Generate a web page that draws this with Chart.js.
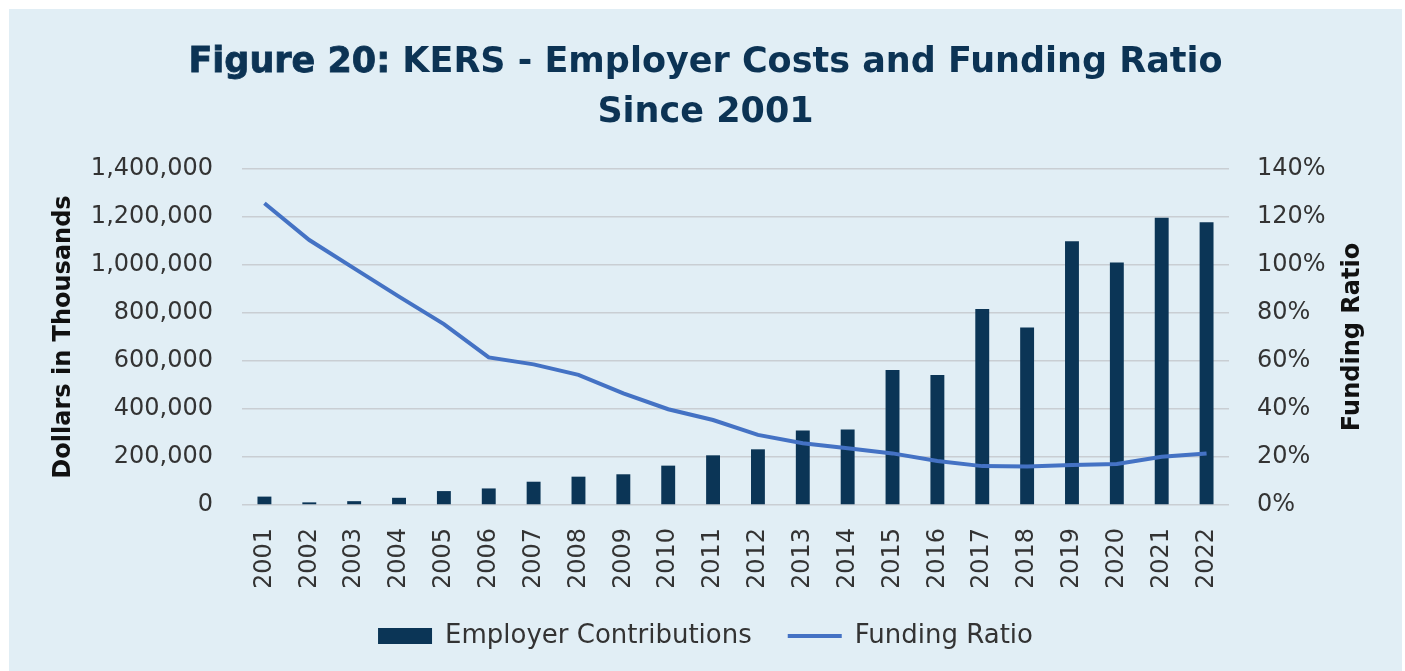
<!DOCTYPE html>
<html>
<head>
<meta charset="utf-8">
<script src="https://cdn.jsdelivr.net/npm/chart.js@4.4.0/dist/chart.umd.min.js"></script>
<style>
  html, body { margin: 0; padding: 0; background: #ffffff; }
  #panel {
    position: absolute; left: 9px; top: 9px; width: 1393px; height: 662px;
    background: #e1eef5;
  }
  #title {
    position: absolute; left: 0; top: 26px; width: 100%;
    text-align: center; color: #0c3354;
    font-family: "DejaVu Sans", sans-serif; font-weight: bold;
    font-size: 35px; line-height: 50px;
  }
  #title .fig { -webkit-text-stroke: 0.8px #0c3354; }
  #chartBox { position: absolute; left: 0; top: 0; width: 1393px; height: 662px; }
</style>
</head>
<body>
<div id="panel">
  <div id="chartBox"><canvas id="kersChart"></canvas></div>
  <div id="title"><span class="fig">Figure 20:</span> KERS - Employer Costs and Funding Ratio<br>Since 2001</div>
</div>
<script>
const years = ['2001', '2002', '2003', '2004', '2005', '2006', '2007', '2008', '2009', '2010', '2011',
               '2012', '2013', '2014', '2015', '2016', '2017', '2018', '2019', '2020', '2021', '2022'];
// employer contributions, dollars in thousands
const employerContributions = [35000, 11000, 16000, 30000, 58000, 69000, 97000, 118000, 128000, 164000, 207000,
                               232000, 310000, 315000, 562000, 542000, 817000, 740000, 1099000, 1010000, 1197000, 1178000];
// funding ratio, percent
const fundingRatio = [125.7, 110.4, 98.6, 86.8, 75.4, 61.5, 58.6, 54.2, 46.5, 39.9, 35.4,
                      29.2, 25.7, 23.6, 21.5, 18.3, 16.2, 16.0, 16.7, 17.1, 20.1, 21.5];
const dollarTicks = [0, 1400000, 200000];   // min, max, step
const ratioTicks = [0, 140, 20];

const navy = '#0b3556';
const blue = '#4472c4';
const tickFont = { family: 'DejaVu Sans', size: 24 };
const axisTitleFont = { family: 'DejaVu Sans', size: 24, weight: 'bold' };

const rightTitle = {
    id: 'rightTitle',
    afterDraw(chart) {
        const sc = chart.scales.y1;
        const ctx = chart.ctx;
        ctx.save();
        ctx.translate(1344, (sc.top + sc.bottom) / 2);
        ctx.rotate(-Math.PI / 2);
        ctx.font = 'bold 24px "DejaVu Sans"';
        ctx.fillStyle = '#111111';
        ctx.textAlign = 'center';
        ctx.textBaseline = 'middle';
        ctx.fillText('Funding Ratio', 0, 0);
        ctx.restore();
    }
};

new Chart(document.getElementById('kersChart'), {
    type: 'bar',
    data: {
        labels: years,
        datasets: [{
            type: 'line',
            label: 'Funding Ratio',
            data: fundingRatio,
            yAxisID: 'y1',
            borderColor: blue,
            borderWidth: 4,
            pointRadius: 0,
            tension: 0,
            order: 0
        }, {
            type: 'bar',
            label: 'Employer Contributions',
            data: employerContributions,
            yAxisID: 'y',
            backgroundColor: navy,
            categoryPercentage: 1,
            barPercentage: 0.31,
            order: 1
        }]
    },
    options: {
        responsive: true,
        maintainAspectRatio: false,
        animation: false,
        layout: { padding: { top: 160, left: 0, right: 0, bottom: 12 } },
        plugins: {
            tooltip: { enabled: false },
            legend: {
                position: 'bottom',
                labels: {
                    font: { family: 'DejaVu Sans', size: 26 },
                    color: '#333333',
                    usePointStyle: true,
                    pointStyleWidth: 54,
                    boxHeight: 16,
                    padding: 36,
                    generateLabels() {
                        return [
                            { text: 'Employer Contributions', fillStyle: navy, strokeStyle: navy, lineWidth: 0, pointStyle: 'rect', datasetIndex: 1, fontColor: '#333333' },
                            { text: 'Funding Ratio', fillStyle: blue, strokeStyle: blue, lineWidth: 4, pointStyle: 'line', datasetIndex: 0, fontColor: '#333333' }
                        ];
                    }
                }
            }
        },
        scales: {
            x: {
                grid: { display: false },
                border: { display: false },
                ticks: {
                    font: tickFont, color: '#333333',
                    minRotation: 90, maxRotation: 90, autoSkip: false, padding: 15
                },
                afterFit(scale) { scale.height = 82; }
            },
            y: {
                position: 'left',
                min: dollarTicks[0], max: dollarTicks[1],
                grid: { color: '#c9ced3', lineWidth: 1.5, drawTicks: false },
                border: { display: false },
                ticks: {
                    stepSize: dollarTicks[2], padding: 29, font: tickFont, color: '#333333',
                    callback: v => v.toLocaleString('en-US')
                },
                title: { display: true, text: 'Dollars in Thousands', font: axisTitleFont, color: '#111111', padding: { top: 40, bottom: 0 } },
                afterFit(scale) { scale.width = 233; }
            },
            y1: {
                position: 'right',
                min: ratioTicks[0], max: ratioTicks[1],
                grid: { display: false, drawTicks: false },
                border: { display: false },
                ticks: {
                    stepSize: ratioTicks[2], padding: 28, font: tickFont, color: '#333333',
                    callback: v => v + '%'
                },
                afterFit(scale) { scale.width = 173; }
            }
        }
    },
    plugins: [rightTitle]
});
</script>
</body>
</html>
